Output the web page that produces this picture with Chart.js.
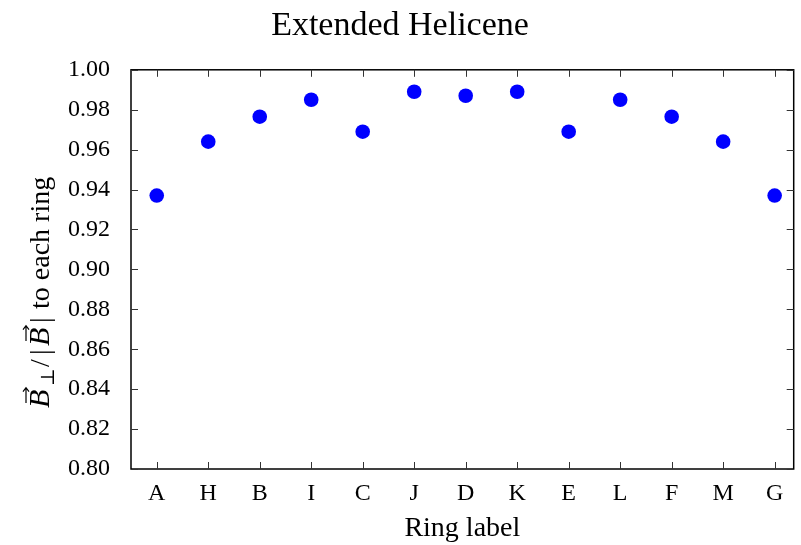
<!DOCTYPE html>
<html>
<head>
<meta charset="utf-8">
<script src="https://cdn.jsdelivr.net/npm/chart.js@4.4.1/dist/chart.umd.min.js"></script>
<style>
  html, body { margin: 0; padding: 0; background: #fff; }
  #wrap { width: 801px; height: 545px; }
</style>
</head>
<body>
<div id="wrap"><canvas id="chart" width="801" height="545"></canvas></div>
<script>
// ring labels along the x axis, in plotted order
var rings = ['A', 'H', 'B', 'I', 'C', 'J', 'D', 'K', 'E', 'L', 'F', 'M', 'G'];
// B_perp / |B| for each ring
var ratio = [0.937, 0.964, 0.9765, 0.985, 0.969, 0.989, 0.987, 0.989, 0.969, 0.985, 0.9765, 0.964, 0.937];
// y tick values and their labels
var yTicks = [0.80, 0.82, 0.84, 0.86, 0.88, 0.90, 0.92, 0.94, 0.96, 0.98, 1.00];
var yTickLabels = ['0.80', '0.82', '0.84', '0.86', '0.88', '0.90', '0.92', '0.94', '0.96', '0.98', '1.00'];

var SERIF = "'Liberation Serif', 'DejaVu Serif', serif";

var points = ratio.map(function (v, i) { return { x: i, y: v }; });

// frame on all four sides with gnuplot-style inward ticks
var framePlugin = {
  id: 'frame',
  beforeDatasetsDraw: function (chart) {
    var ctx = chart.ctx;
    var a = chart.chartArea;
    var xs = chart.scales.x, ys = chart.scales.y;
    var len = 7;
    ctx.save();
    ctx.strokeStyle = '#000';
    ctx.lineWidth = 1.5;
    ctx.strokeRect(a.left, a.top, a.right - a.left, a.bottom - a.top);
    ctx.lineWidth = 1;
    ctx.strokeStyle = '#333';
    ctx.beginPath();
    xs.ticks.forEach(function (t) {
      var px = Math.round(xs.getPixelForValue(t.value)) + 0.5;
      ctx.moveTo(px, a.bottom); ctx.lineTo(px, a.bottom - len);
      ctx.moveTo(px, a.top); ctx.lineTo(px, a.top + len);
    });
    ys.ticks.forEach(function (t) {
      var py = Math.round(ys.getPixelForValue(t.value)) + 0.5;
      ctx.moveTo(a.left, py); ctx.lineTo(a.left + len, py);
      ctx.moveTo(a.right, py); ctx.lineTo(a.right - len, py);
    });
    ctx.stroke();
    ctx.restore();
  }
};

// y axis title: B-vector-perp / |B-vector| to each ring
// drawn piece by piece, each piece with its own advance (math spacing)
var yTitlePlugin = {
  id: 'ytitle',
  afterDraw: function (chart) {
    var ctx = chart.ctx;
    var big = '28px ' + SERIF;
    var ital = 'italic 30px ' + SERIF;
    var small = '19px ' + SERIF;
    var parts = [
      { t: 'B', f: ital, arrow: true, dy: 0, adv: 22 },
      { t: '\u22A5', f: small, dy: 5, adv: 17 },
      { t: '/', f: big, dy: 0, adv: 14, dx: 2 },
      { t: '|', f: big, dy: 0, adv: 7 },
      { t: 'B', f: ital, arrow: true, dy: 0, adv: 25, dx: 2 },
      { t: '|', f: big, dy: 0, adv: 14 },
      { t: 'to each ring', f: big, dy: 0, adv: 0 }
    ];
    ctx.save();
    ctx.translate(49, 408);
    ctx.rotate(-Math.PI / 2);
    ctx.fillStyle = '#000';
    ctx.strokeStyle = '#000';
    ctx.textBaseline = 'alphabetic';
    ctx.textAlign = 'left';
    var x = 0;
    parts.forEach(function (p) {
      ctx.font = p.f;
      var w = ctx.measureText(p.t).width;
      var x0 = x + (p.dx || 0);
      ctx.fillText(p.t, x0, p.dy);
      if (p.arrow) {
        var ya = -23, xa = x0 + 5, xb = x0 + w + 2;
        ctx.lineWidth = 1.2;
        ctx.beginPath();
        ctx.moveTo(xa, ya); ctx.lineTo(xb, ya);
        ctx.moveTo(xb - 4, ya - 3); ctx.lineTo(xb, ya); ctx.lineTo(xb - 4, ya + 3);
        ctx.stroke();
      }
      x += p.adv;
    });
    ctx.restore();
  }
};

new Chart(document.getElementById('chart'), {
  type: 'scatter',
  data: {
    datasets: [{
      data: points,
      backgroundColor: '#0000ff',
      borderColor: '#0000ff',
      pointRadius: 7.3,
      pointHoverRadius: 7.3,
      borderWidth: 0
    }]
  },
  options: {
    responsive: false,
    animation: false,
    layout: { padding: { left: 0, right: 1, top: 0, bottom: 0 } },
    plugins: {
      legend: { display: false },
      tooltip: { enabled: false },
      title: {
        display: true,
        text: 'Extended Helicene',
        color: '#000',
        font: { family: SERIF, size: 34, weight: 'normal' },
        padding: { top: 6, bottom: 23 }
      }
    },
    scales: {
      x: {
        type: 'linear',
        min: -0.5,
        max: 12.37,
        grid: { display: false, drawTicks: false },
        border: { display: false },
        afterBuildTicks: function (scale) {
          scale.ticks = rings.map(function (r, i) { return { value: i }; });
        },
        afterFit: function (scale) { scale.height = 76; },
        ticks: {
          color: '#000',
          font: { family: SERIF, size: 24 },
          padding: 10,
          maxRotation: 0,
          autoSkip: false,
          callback: function (v) { return rings[v]; }
        },
        title: {
          display: true,
          text: 'Ring label',
          color: '#000',
          font: { family: SERIF, size: 28 },
          padding: { top: 2, bottom: 0 }
        }
      },
      y: {
        min: 0.8,
        max: 1.0,
        grid: { display: false, drawTicks: false },
        border: { display: false },
        afterBuildTicks: function (scale) {
          scale.ticks = yTicks.map(function (v) { return { value: v }; });
        },
        afterFit: function (scale) { scale.width = 131; },
        ticks: {
          color: '#000',
          font: { family: SERIF, size: 24 },
          padding: 21,
          callback: function (v, i) { return yTickLabels[i]; }
        }
      }
    }
  },
  plugins: [framePlugin, yTitlePlugin]
});
</script>
</body>
</html>
